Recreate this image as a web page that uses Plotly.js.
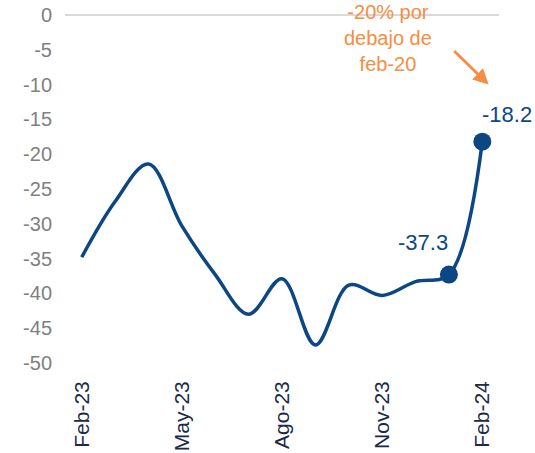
<!DOCTYPE html>
<html>
<head>
<meta charset="utf-8">
<script src="https://cdn.plot.ly/plotly-3.0.1.min.js"></script>
<style>html,body{margin:0;padding:0;background:#fff;}#chart{width:535px;height:453px;}</style>
</head>
<body>
<div id="chart"></div>
<script>
const months = ["Feb-23","Mar-23","Abr-23","May-23","Jun-23","Jul-23","Ago-23","Sep-23","Oct-23","Nov-23","Dic-23","Ene-24","Feb-24"];
const values = [-34.8,-26.8,-21.4,-30.3,-37.3,-43.0,-37.9,-47.4,-38.8,-40.3,-38.3,-37.3,-18.2];
const tickLabels = ["Feb-23","May-23","Ago-23","Nov-23","Feb-24"];
const yTicks = [0,-5,-10,-15,-20,-25,-30,-35,-40,-45,-50];
const markedIdx = [11,12];
const noteText = "-20% por<br>debajo de<br>feb-20";

const lineColor = "#0C4783";
const orange = "#F58D42";

const traces = [
  {
    x: months, y: values, type: "scatter", mode: "lines",
    line: {color: lineColor, width: 3.5, shape: "spline", smoothing: 1},
    hoverinfo: "skip", cliponaxis: false
  },
  {
    x: markedIdx.map(i => months[i]), y: markedIdx.map(i => values[i]),
    type: "scatter", mode: "markers",
    marker: {color: lineColor, size: 18},
    hoverinfo: "skip", cliponaxis: false
  }
];

const layout = {
  width: 535, height: 453,
  margin: {l: 65, r: 36, t: 15, b: 90},
  paper_bgcolor: "#fff", plot_bgcolor: "#fff",
  showlegend: false,
  font: {family: "Liberation Sans, Arial, sans-serif"},
  xaxis: {
    type: "category", categoryorder: "array", categoryarray: months,
    range: [-0.5, 12.5],
    tickmode: "array", tickvals: tickLabels, ticktext: tickLabels,
    tickangle: -90, showgrid: false, zeroline: false, showline: false,
    ticks: "", ticklabelstandoff: 13,
    tickfont: {size: 21, color: "#1B2A47"}
  },
  yaxis: {
    range: [-50, 0], tickmode: "array", tickvals: yTicks,
    ticktext: yTicks.map(v => String(v)),
    showgrid: false, zeroline: true, zerolinecolor: "#D9D9D9", zerolinewidth: 2,
    showline: false, ticks: "", ticklabelstandoff: 12,
    tickfont: {size: 20, color: "#808080"}
  },
  annotations: [
    {x: months[11], y: values[11], text: String(values[11]), showarrow: false,
     xshift: -26, yshift: 32, font: {size: 22, color: lineColor}},
    {x: months[12], y: values[12], text: String(values[12]), showarrow: false,
     xshift: 25, yshift: 27, font: {size: 22, color: lineColor}},
    {x: 9.16, y: -3.3, text: noteText, showarrow: false, align: "center",
     font: {size: 20, color: orange}},
    {x: 12.19, y: -10.0, text: "", showarrow: true, ax: -36, ay: -35,
     arrowcolor: orange, arrowwidth: 2.8, arrowhead: 2, arrowsize: 1.1, standoff: 0}
  ]
};

Plotly.newPlot("chart", traces, layout, {staticPlot: true, displayModeBar: false});
</script>
</body>
</html>
